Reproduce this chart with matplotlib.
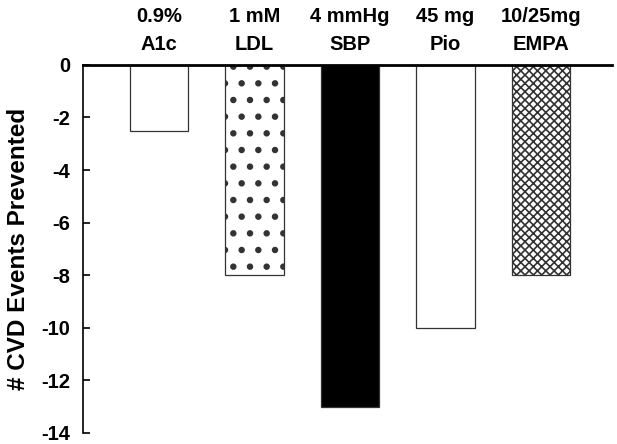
import numpy as np
import matplotlib.pyplot as plt

plt.rcParams['font.family'] = ['Liberation Sans', 'DejaVu Sans']
plt.rcParams['font.weight'] = 'bold'
plt.rcParams['axes.unicode_minus'] = False

labels = ['0.9%\nA1c', '1 mM\nLDL', '4 mmHg\nSBP', '45 mg\nPio', '10/25mg\nEMPA']
values = [-2.5, -8, -13, -10, -8]
colors = ['white', 'white', 'black', 'white', 'white']
hatches = ['', '.', '', '', 'xxxx']
hatch_lw = [1.0, 2.2, 1.0, 1.0, 1.2]

fig = plt.figure(figsize=(6.17, 4.44), dpi=100)
ax = fig.add_axes([0.1345, 0.0248, 0.8575, 0.829])

x = np.arange(len(labels))
for i in range(len(labels)):
    with plt.rc_context({'hatch.linewidth': hatch_lw[i]}):
        bars = ax.bar(x[i], values[i], width=0.61, color=colors[i], edgecolor='#333333',
                      linewidth=0.9, hatch=hatches[i])
    for b in bars:
        if hasattr(b, 'set_hatch_linewidth'):
            b.set_hatch_linewidth(hatch_lw[i])

ax.set_xlim(-0.796, 4.743)
ax.set_ylim(-14, 0)
ax.set_yticks(np.arange(-14, 1, 2))
ax.tick_params(axis='y', labelsize=14.5, direction='in', length=5, width=1.2, pad=9)

ax.xaxis.tick_top()
ax.set_xticks(x)
ax.set_xticklabels(labels, fontsize=14.5, fontweight='bold', linespacing=1.6)
ax.tick_params(axis='x', length=0, pad=8)

ax.spines['bottom'].set_visible(False)
ax.spines['right'].set_visible(False)
ax.spines['top'].set_linewidth(2)
ax.spines['left'].set_linewidth(1.2)

ax.set_ylabel('# CVD Events Prevented', fontsize=17.5, fontweight='bold', labelpad=8)

fig.savefig('out.png', dpi=100)
